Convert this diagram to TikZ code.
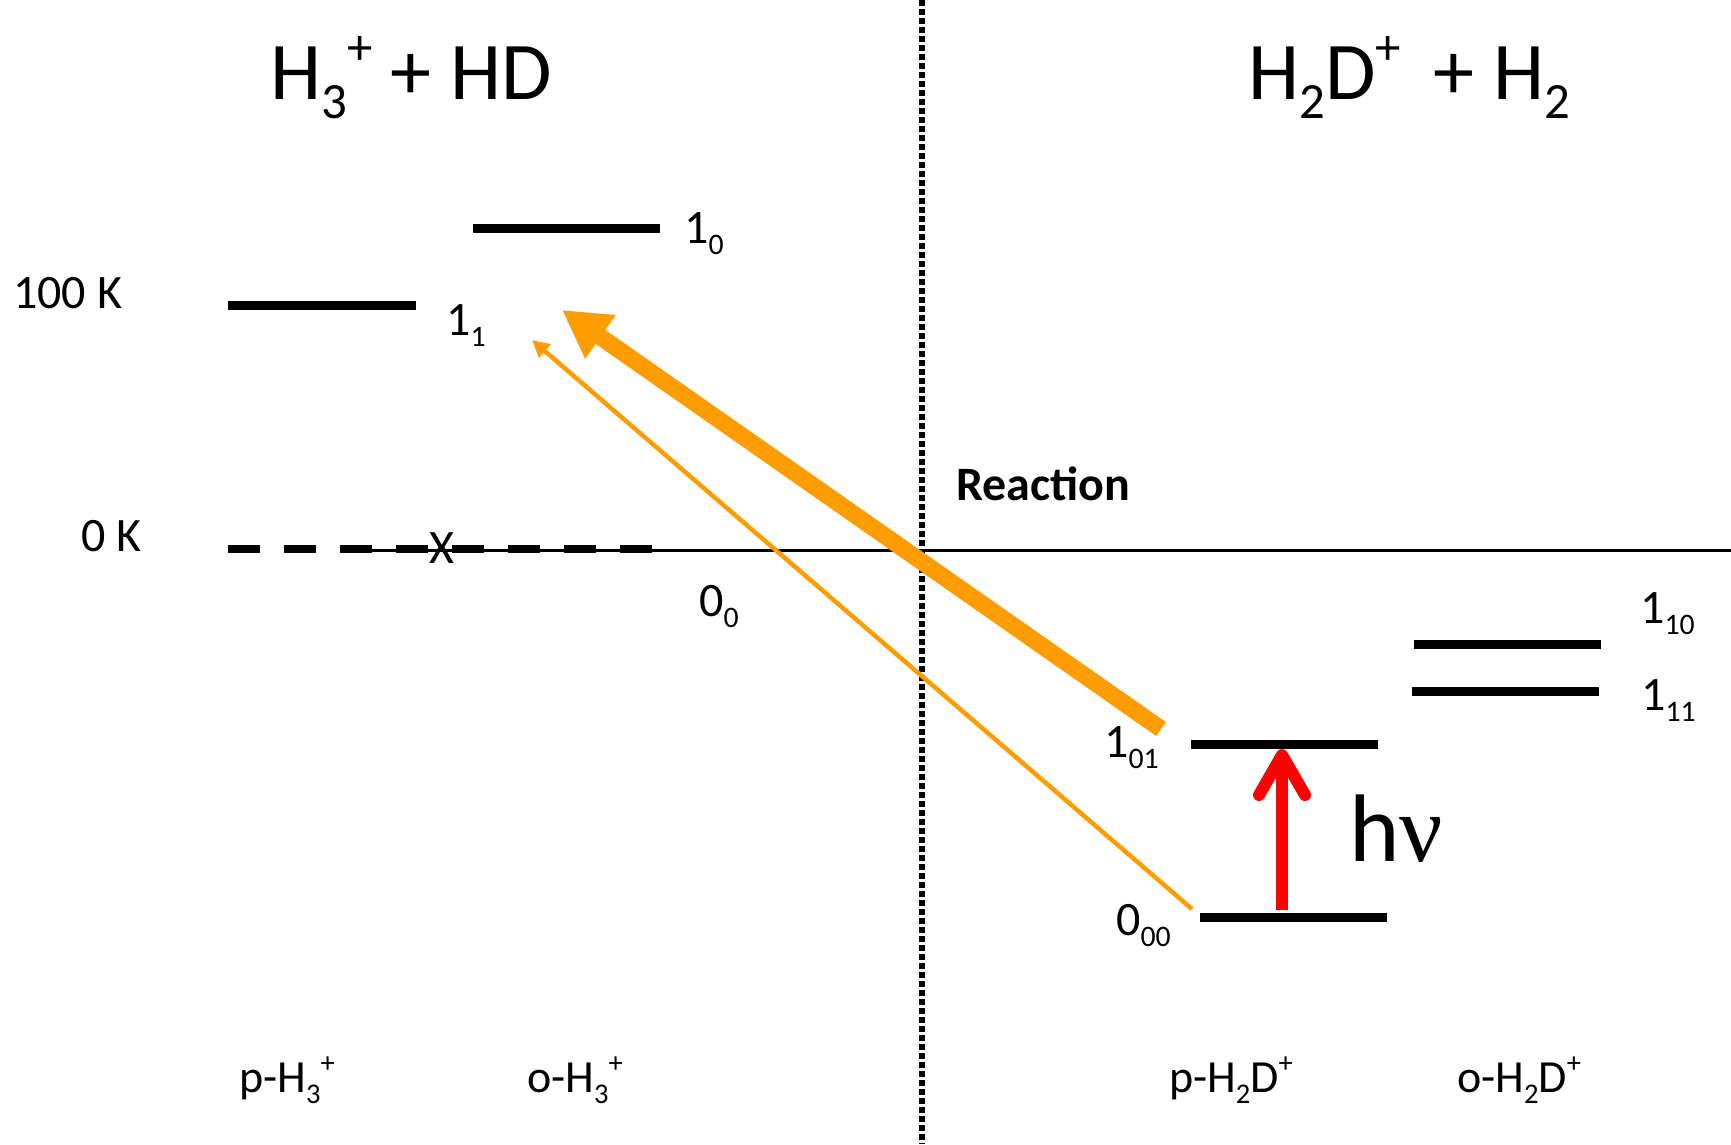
\documentclass[tikz,border=0pt]{standalone}
\usepackage{fontspec}
\setmainfont{Carlito}
\newfontfamily\nufont{Liberation Serif}
\usepackage{graphicx}
\usetikzlibrary{arrows.meta}

\definecolor{orng}{RGB}{255,157,0}
\newcommand{\lo}[1]{\raisebox{-0.24em}{\scalebox{0.62}{#1}}}
\newcommand{\hi}[1]{\raisebox{0.42em}{\scalebox{0.62}{#1}}}

\begin{document}
\begin{tikzpicture}[x=1pt,y=-1pt,
  lvl/.style={line width=9pt},
  lab/.style={font=\fontsize{48}{50}\selectfont,anchor=base west,inner sep=0pt},
  big/.style={font=\fontsize{82}{86}\selectfont,anchor=base west,inner sep=0pt},
  bot/.style={font=\fontsize{46}{50}\selectfont,anchor=base,inner sep=0pt}]
\useasboundingbox (0,0) rectangle (1731,1144);
% divider and zero line
\draw[line width=5.5pt,dash pattern=on 5.5pt off 3.5pt] (922,0)--(922,1144);
\draw[line width=3pt] (372,550)--(1731,550);
\draw[line width=8pt,dash pattern=on 32pt off 24pt] (228,549)--(652,549);
\node[lab,anchor=center] (cross) at (442,548) {X};
% titles
\node[big] (lhs) at (270,99) {H\lo{3}\hi{+} + HD};
\node[big] (rhs) at (1248,99) {H\lo{2}D\hi{+}\hspace{0.4em}+ H\lo{2}};
% energy levels
\foreach \xa/\xb/\y in {228/416/305, 473/660/228, 1191/1378/744,
                        1200/1387/917, 1414/1601/644, 1412/1599/691}
  \draw[lvl] (\xa,\y)--(\xb,\y);
\node[lab] (l11) at (446,335) {1\lo{1}};
\node[lab] (l10) at (684,243) {1\lo{0}};
\node[lab] (l00) at (699,616) {0\lo{0}};
\node[lab] (l101) at (1104,757) {1\lo{01}};
\node[lab] (l000) at (1116,935) {0\lo{00}};
\node[lab] (l110) at (1640,623) {1\lo{10}};
\node[lab] (l111) at (1641,710) {1\lo{11}};
\node[lab] (t100) at (13,308) {100 K};
\node[lab] (t0) at (81,551) {0 K};
\node[lab,font=\fontsize{48}{50}\selectfont\bfseries] (reac) at (956,500) {Reaction};
\node[font=\fontsize{96}{100}\selectfont,anchor=base west,inner sep=0pt] (hnu) at (1349,861) {h{\nufont ν}};
% species
\node[bot] (pH3) at (287,1092) {p-H\lo{3}\hi{+}};
\node[bot] (oH3) at (575,1092) {o-H\lo{3}\hi{+}};
\node[bot] (pH2D) at (1231,1092) {p-H\lo{2}D\hi{+}};
\node[bot] (oH2D) at (1519,1092) {o-H\lo{2}D\hi{+}};
% transitions
\coordinate (s101) at (1161,729);
\coordinate (e10) at (562,310);
\coordinate (s000) at (1192,909);
\coordinate (e11) at (532,340);
\coordinate (r0) at (1282,910);
\coordinate (r1) at (1282,749);
\draw[orng,line width=17pt,-{Triangle[length=47pt,width=50pt]}] (s101)--(e10);
\draw[orng,line width=4.5pt,-{Triangle[length=17pt,width=17pt]}] (s000)--(e11);
\draw[red,line width=12pt,-{Straight Barb[length=40pt,width=46pt,round]}] (r0)--(r1);
\end{tikzpicture}
\end{document}
